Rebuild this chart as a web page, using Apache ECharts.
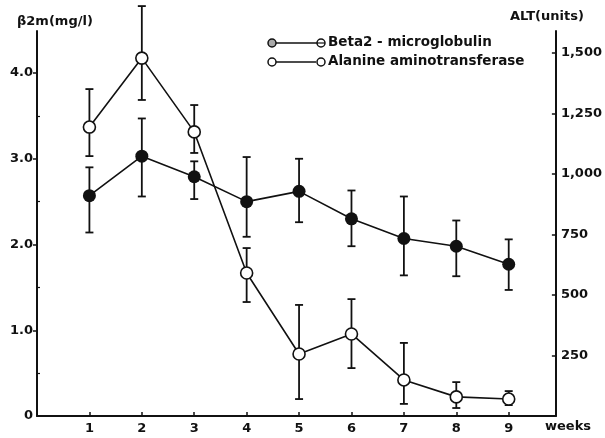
<!doctype html>
<html>
  <head>
    <meta charset="utf-8">
    <title>Beta2-microglobulin / ALT</title>
    <script src="https://cdn.jsdelivr.net/npm/echarts@6/dist/echarts.min.js"></script>
    <style>
      html, body { margin: 0; padding: 0; background: #fff; }
      #main { width: 605px; height: 438px; }
    </style>
  </head>
  <body>
    <div id="main"></div>
    <script type="text/javascript">
      // data
      var weeks = [1, 2, 3, 4, 5, 6, 7, 8, 9];

      var b2m     = [2.57, 3.03, 2.79, 2.50, 2.62, 2.30, 2.07, 1.98, 1.77];
      var b2mHigh = [2.90, 3.47, 2.97, 3.02, 3.00, 2.63, 2.56, 2.28, 2.06];
      var b2mLow  = [2.14, 2.56, 2.53, 2.09, 2.26, 1.98, 1.64, 1.63, 1.47];

      var alt     = [1194, 1479, 1174, 591, 256, 339, 149, 79, 70];
      var altHigh = [1351, 1694, 1285, 694, 459, 483, 302, 140, 103];
      var altLow  = [1074, 1306, 1087, 471, 70, 198, 50, 33, 45];

      var leftTicks = [0, 1, 2, 3, 4];
      var leftMinor = [0.5, 1.5, 2.5, 3.5];
      var rightTicks = [250, 500, 750, 1000, 1250, 1500];

      var FONT = 'DejaVu Sans';
      var INK = '#111';

      function pairs(vals) {
        return weeks.map(function (w, i) { return [w, vals[i]]; });
      }
      function errData(lo, hi) {
        return weeks.map(function (w, i) { return [w, lo[i], hi[i]]; });
      }
      function errRender(params, api) {
        var x = api.value(0);
        var lo = api.coord([x, api.value(1)]);
        var hi = api.coord([x, api.value(2)]);
        var cw = 4;
        var st = { stroke: INK, lineWidth: 1.8 };
        return {
          type: 'group',
          children: [
            { type: 'line', shape: { x1: lo[0], y1: lo[1], x2: hi[0], y2: hi[1] }, style: st },
            { type: 'line', shape: { x1: hi[0] - cw, y1: hi[1], x2: hi[0] + cw, y2: hi[1] }, style: st },
            { type: 'line', shape: { x1: lo[0] - cw, y1: lo[1], x2: lo[0] + cw, y2: lo[1] }, style: st }
          ]
        };
      }

      var myChart = echarts.init(document.getElementById('main'));

      var lbl = { color: INK, fontFamily: FONT, fontWeight: 'bold', fontSize: 13 };
      var txtFont = 'bold 13px "DejaVu Sans"';
      var legFont = 'bold 13.5px "DejaVu Sans"';

      var option = {
        animation: false,
        backgroundColor: '#fff',
        grid: { left: 37, right: 48, top: 31, bottom: 22 },
        xAxis: {
          type: 'value',
          min: 0,
          max: 9.9,
          axisLine: { lineStyle: { color: INK, width: 2 } },
          axisTick: { inside: true, length: 4, lineStyle: { color: INK, width: 1.5 }, customValues: weeks },
          axisLabel: Object.assign({ margin: 6, customValues: weeks }, lbl),
          splitLine: { show: false }
        },
        yAxis: [
          {
            type: 'value',
            position: 'left',
            min: 0,
            max: 4.49,
            axisLine: { show: true, lineStyle: { color: INK, width: 2 } },
            axisTick: { show: true, length: 4, lineStyle: { color: INK, width: 1.5 }, customValues: [1, 2, 3, 4] },
            axisLabel: Object.assign({
              margin: 4,
              customValues: leftTicks,
              formatter: function (v) { return v === 0 ? '0' : v.toFixed(1); }
            }, lbl),
            splitLine: { show: false }
          },
          {
            type: 'value',
            position: 'right',
            min: 0,
            max: 1591,
            axisLine: { show: true, lineStyle: { color: INK, width: 2 } },
            axisTick: { show: true, inside: true, length: 4, lineStyle: { color: INK, width: 1.5 }, customValues: rightTicks },
            axisLabel: Object.assign({
              margin: 5,
              customValues: rightTicks,
              formatter: function (v) { return v.toLocaleString('en-US'); }
            }, lbl),
            splitLine: { show: false }
          },
          {
            // minor ticks of the left axis
            type: 'value',
            position: 'left',
            min: 0,
            max: 4.49,
            axisLine: { show: false },
            axisTick: { show: true, inside: true, length: 3, lineStyle: { color: INK, width: 1.2 }, customValues: leftMinor },
            axisLabel: { show: false },
            splitLine: { show: false }
          }
        ],
        graphic: [
          { type: 'text', left: 17, top: 15, style: { text: 'β2m(mg/l)', fill: INK, font: txtFont } },
          { type: 'text', left: 510, top: 10, style: { text: 'ALT(units)', fill: INK, font: txtFont } },
          { type: 'text', left: 545, top: 420, style: { text: 'weeks', fill: INK, font: txtFont } },
          // legend
          { type: 'line', shape: { x1: 276, y1: 43, x2: 317, y2: 43 }, style: { stroke: INK, lineWidth: 1.5 } },
          { type: 'circle', shape: { cx: 272, cy: 43, r: 4 }, style: { fill: '#aaa', stroke: INK, lineWidth: 1.5 } },
          { type: 'circle', shape: { cx: 321, cy: 43, r: 4 }, style: { fill: '#fff', stroke: INK, lineWidth: 1.5 } },
          { type: 'line', shape: { x1: 317, y1: 43, x2: 325, y2: 43 }, style: { stroke: INK, lineWidth: 1.2 } },
          { type: 'text', left: 328, top: 35, style: { text: 'Beta2 - microglobulin', fill: INK, font: legFont } },
          { type: 'line', shape: { x1: 276, y1: 62, x2: 316, y2: 62 }, style: { stroke: INK, lineWidth: 1.5 } },
          { type: 'circle', shape: { cx: 272, cy: 62, r: 4 }, style: { fill: '#fff', stroke: INK, lineWidth: 1.5 } },
          { type: 'circle', shape: { cx: 321, cy: 62, r: 4 }, style: { fill: '#fff', stroke: INK, lineWidth: 1.5 } },
          { type: 'text', left: 328, top: 54, style: { text: 'Alanine aminotransferase', fill: INK, font: legFont } }
        ],
        series: [
          {
            name: 'Beta2-microglobulin error',
            type: 'custom',
            xAxisIndex: 0,
            yAxisIndex: 0,
            clip: false,
            z: 1,
            renderItem: errRender,
            encode: { x: 0, y: [1, 2] },
            data: errData(b2mLow, b2mHigh)
          },
          {
            name: 'Alanine aminotransferase error',
            type: 'custom',
            xAxisIndex: 0,
            yAxisIndex: 1,
            clip: false,
            z: 1,
            renderItem: errRender,
            encode: { x: 0, y: [1, 2] },
            data: errData(altLow, altHigh)
          },
          {
            name: 'Beta2-microglobulin',
            type: 'line',
            yAxisIndex: 0,
            z: 3,
            symbol: 'circle',
            symbolSize: 13,
            itemStyle: { color: INK },
            lineStyle: { color: INK, width: 1.6 },
            data: pairs(b2m)
          },
          {
            name: 'Alanine aminotransferase',
            type: 'line',
            yAxisIndex: 1,
            z: 3,
            symbol: 'circle',
            symbolSize: 12,
            itemStyle: { color: '#fff', borderColor: INK, borderWidth: 1.6 },
            lineStyle: { color: INK, width: 1.6 },
            data: pairs(alt)
          }
        ]
      };
      myChart.setOption(option);
    </script>
  </body>
</html>
